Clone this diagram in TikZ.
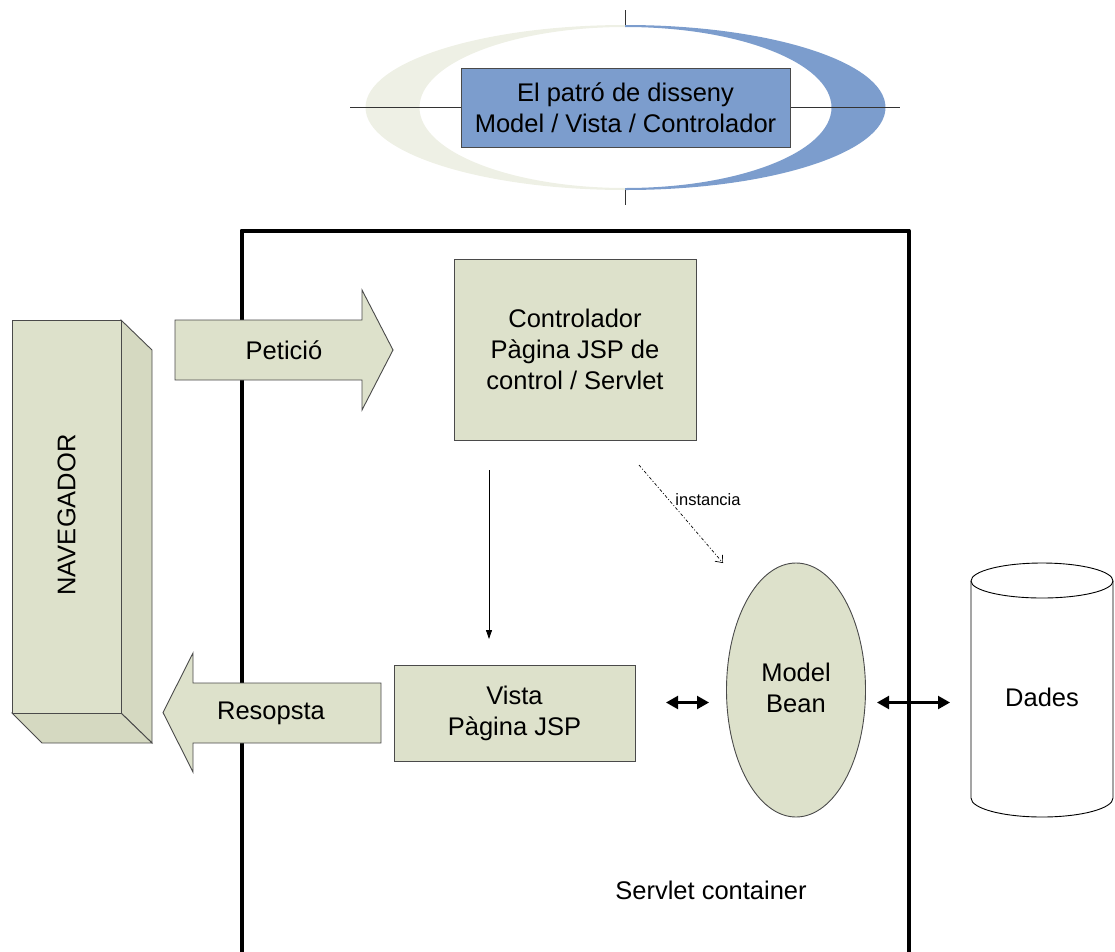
\documentclass[tikz,border=0pt]{standalone}
\usepackage{fontspec}
\setmainfont{Liberation Sans}
\usetikzlibrary{arrows.meta,shapes.geometric}

\definecolor{sagefill}{HTML}{DDE1CB}
\definecolor{sageside}{HTML}{D5D9C1}
\definecolor{edgegrey}{HTML}{4A4A4A}
\definecolor{titleblue}{HTML}{7C9DCD}
\definecolor{ringgrey}{HTML}{EEF0E5}

\tikzset{
  sagebox/.style={draw=edgegrey, line width=0.9pt, fill=sagefill, inner sep=0pt, align=center},
  blockarrow/.style={draw=edgegrey, line width=0.9pt, fill=sagefill},
  plainlabel/.style={inner sep=0pt, align=center},
  twoway/.style={line width=2.2pt, {Triangle[length=12pt,width=13pt]}-{Triangle[length=12pt,width=13pt]}},
  flow/.style={line width=0.8pt, -{Triangle[length=9pt,width=6pt]}},
  makes/.style={line width=0.7pt, dash pattern=on 3pt off 2pt on 1pt off 2pt, -{Straight Barb[length=6pt,width=10pt]}},
  crosshair/.style={draw=black!80, line width=0.9pt}
}

\begin{document}
\begin{tikzpicture}[x=1pt, y=-1pt, font=\fontsize{25.5}{31}\selectfont]
\useasboundingbox (0,0) rectangle (1115,951);

% ---- title emblem: two-tone ring with a crosshair ----
\begin{scope}
  \clip (300,0) rectangle (625,220);
  \fill[ringgrey, even odd rule] (625.5,107.5) ellipse (260 and 82.5) (625.5,107.5) ellipse (206 and 80.5);
\end{scope}
\begin{scope}
  \clip (625,0) rectangle (950,220);
  \fill[titleblue, even odd rule] (625.5,107.5) ellipse (260 and 82.5) (625.5,107.5) ellipse (206 and 80.5);
\end{scope}
\coordinate (hl) at (350,107.5);
\coordinate (hr) at (900,107.5);
\coordinate (vt1) at (625.5,10);
\coordinate (vt2) at (625.5,25);
\coordinate (vb1) at (625.5,190);
\coordinate (vb2) at (625.5,205);
\draw[crosshair] (hl) -- (hr);
\draw[crosshair] (vt1) -- (vt2);
\draw[crosshair] (vb1) -- (vb2);
\node[draw=edgegrey, line width=0.9pt, fill=titleblue, inner sep=0pt, align=center,
      minimum width=329pt, minimum height=79pt] (title) at (625.5,107.5)
      {El patró de disseny\\Model / Vista / Controlador};

% ---- servlet container (open at the bottom) ----
\coordinate (cbl) at (241.5,960);
\coordinate (ctl) at (241.5,230.5);
\coordinate (ctr) at (908.5,230.5);
\coordinate (cbr) at (908.5,960);
\draw[line width=4pt, line join=round] (cbl) -- (ctl) -- (ctr) -- (cbr);
\node[plainlabel] (container) at (711,890) {Servlet container};

% ---- browser as a 3D block ----
\fill[sageside, draw=edgegrey, line width=0.9pt] (121,320) -- (152,350) -- (152,743) -- (121,713) -- cycle;
\fill[sageside, draw=edgegrey, line width=0.9pt] (12,713) -- (121,713) -- (152,743) -- (42,743) -- cycle;
\node[sagebox, minimum width=109pt, minimum height=393pt] (browser) at (66.5,516.5) {};
\node[plainlabel, rotate=90] (browserlabel) at (66.5,515) {NAVEGADOR};

% ---- request and response block arrows ----
\draw[blockarrow] (175,320) -- (362,320) -- (362,290) -- (393,350) -- (362,410) -- (362,380) -- (175,380) -- cycle;
\node[plainlabel] (request) at (284,350) {Petició};
\draw[blockarrow] (381,683) -- (193,683) -- (193,653) -- (163,712.5) -- (193,772) -- (193,743) -- (381,743) -- cycle;
\node[plainlabel] (response) at (271,713) {Resopsta};

% ---- controller, view, model ----
\node[sagebox, minimum width=242pt, minimum height=181pt] (ctrl) at (575,349.5)
      {Controlador\\Pàgina JSP de\\control / Servlet};
\node[sagebox, minimum width=241pt, minimum height=96pt] (view) at (514.5,713)
      {Vista\\Pàgina JSP};
\node[sagebox, ellipse, minimum width=139pt, minimum height=254pt] (bean) at (796,690) {};
\node[plainlabel] (beanlabel) at (796,688) {Model\\Bean};

% ---- data store cylinder ----
\fill[white, draw=black, line width=0.9pt]
  (971,581) -- (971,798) arc[start angle=180, end angle=0, x radius=71, y radius=19]
  -- (1113,581) arc[start angle=0, end angle=-180, x radius=71, y radius=18] -- cycle;
\draw[line width=0.9pt] (971,581) arc[start angle=180, end angle=0, x radius=71, y radius=17];
\node[plainlabel] (data) at (1042,697) {Dades};

% ---- connectors ----
\coordinate (fwdtop) at (489,470);
\coordinate (fwdbot) at (489,639);
\draw[flow] (fwdtop) -- (fwdbot);

\coordinate (mktop) at (639,465);
\coordinate (mkbot) at (723,563);
\draw[makes] (mktop) -- (mkbot);
\node[plainlabel, font=\fontsize{16.5}{20}\selectfont] (makeslabel) at (708,500) {instancia};

\coordinate (vbL) at (666,702.5);
\coordinate (vbR) at (709,702.5);
\draw[twoway] (vbL) -- (vbR);
\coordinate (bdL) at (877,702.5);
\coordinate (bdR) at (950,702.5);
\draw[twoway] (bdL) -- (bdR);
\end{tikzpicture}
\end{document}
